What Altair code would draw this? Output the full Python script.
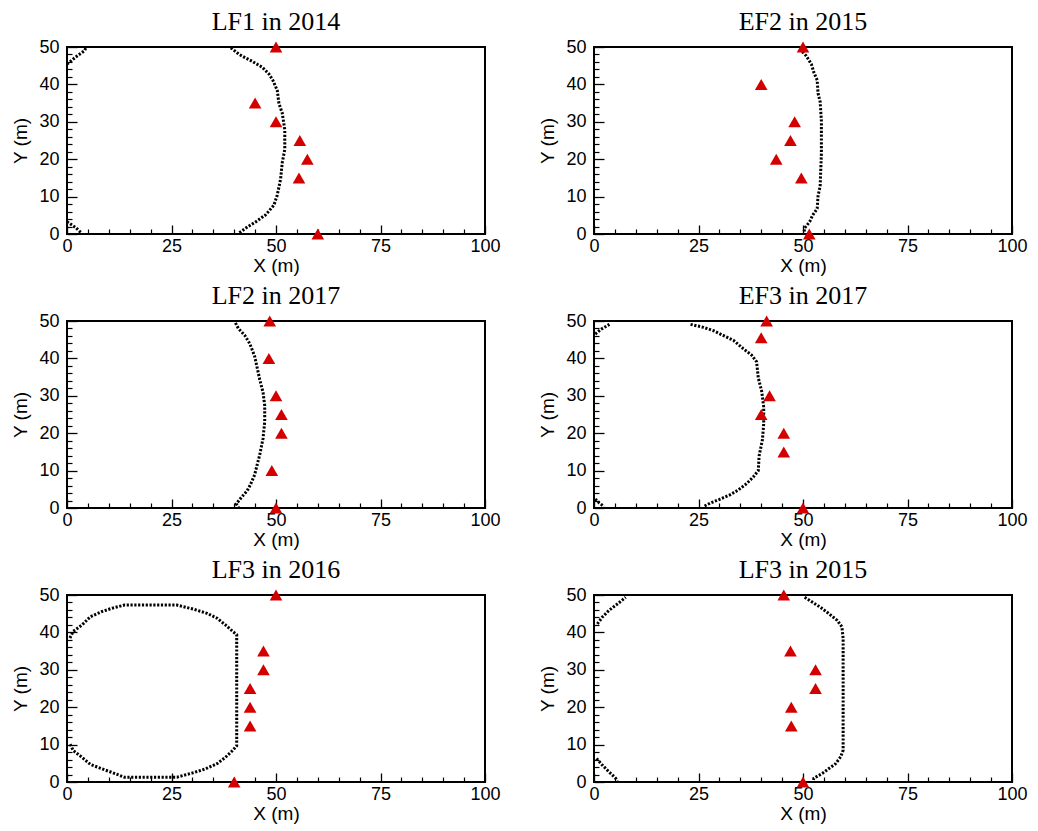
import altair as alt
import pandas as pd

W = 418
H = 187

TITLES = ["LF1 in 2014", "EF2 in 2015", "LF2 in 2017", "EF3 in 2017", "LF3 in 2016", "LF3 in 2015"]

# ---------- receiver triangles (x, y in m) ----------
TRI_X = [
    [50, 45, 50, 55.7, 57.5, 55.5, 60],
    [50, 40, 48, 47, 43.6, 49.6, 51.5],
    [48.5, 48.3, 50, 51.3, 51.3, 49, 50],
    [41.3, 40, 42, 40, 45.4, 45.4, 50],
    [50, 47, 47, 43.8, 43.8, 43.8, 40],
    [45.4, 47, 53, 53, 47.2, 47.2, 50],
]
TRI_Y = [
    [50, 35, 30, 25, 20, 15, 0],
    [50, 40, 30, 25, 20, 15, 0],
    [50, 40, 30, 25, 20, 10, 0],
    [50, 45.5, 30, 25, 20, 15, 0],
    [50, 35, 30, 25, 20, 15, 0],
    [50, 35, 30, 25, 20, 15, 0],
]

# ---------- boundary traces (dotted), several segments per panel ----------
# Panel 1: LF1 in 2014
P1_MAIN_X = [39.2, 41.2, 44.4, 46.7, 48.3, 49.3, 50.3, 50.7, 51.5, 52.1, 52.1, 51.5, 51.1, 50.3, 49.5, 47.5, 45.2, 42.8, 41.2]
P1_MAIN_Y = [49.8, 48.0, 46.1, 44.6, 42.8, 41.0, 38.4, 34.9, 32.3, 27.9, 22.6, 19.1, 14.7, 10.4, 7.7, 5.1, 3.3, 1.6, 0.3]
P1_TL_X = [0.0, 2.4, 4.2, 4.6]
P1_TL_Y = [45.4, 47.6, 49.0, 50.0]
P1_BL_X = [0.0, 2.2, 3.4]
P1_BL_Y = [3.3, 1.6, 0.3]

# Panel 2: EF2 in 2015
P2_MAIN_X = [49.2, 50.8, 52.0, 52.6, 53.4, 53.6, 54.1, 54.4, 54.4, 54.1, 53.6, 53.4, 52.3, 51.6, 50.4, 50.2]
P2_MAIN_Y = [49.5, 47.6, 45.4, 43.2, 41.1, 37.6, 35.4, 30.2, 21.5, 12.8, 10.2, 6.8, 5.0, 3.3, 1.6, 0.0]

# Panel 3: LF2 in 2017
P3_MAIN_X = [40.3, 41.0, 42.5, 43.7, 44.3, 44.9, 45.5, 46.1, 46.9, 47.3, 47.3, 46.9, 46.1, 45.5, 44.9, 43.9, 43.1, 41.7, 40.5, 41.1]
P3_MAIN_Y = [49.5, 48.0, 46.2, 44.0, 42.3, 40.5, 37.5, 34.4, 30.9, 27.4, 23.0, 18.6, 14.2, 11.6, 8.9, 6.3, 4.6, 2.8, 1.1, 0.0]

# Panel 4: EF3 in 2017
P4_MAIN_X = [23.1, 26.2, 28.6, 31.0, 33.4, 35.7, 37.7, 38.9, 39.3, 40.1, 40.6, 40.6, 40.3, 39.5, 39.3, 38.1, 36.5, 34.5, 32.5, 30.2, 27.8, 26.2]
P4_MAIN_Y = [49.1, 48.3, 47.4, 46.1, 44.8, 42.6, 40.9, 39.1, 34.8, 31.3, 27.0, 22.6, 18.3, 13.9, 10.0, 8.3, 6.5, 4.8, 3.5, 2.4, 1.3, 0.4]
P4_TL_X = [0.3, 1.7, 3.7]
P4_TL_Y = [46.5, 47.8, 49.1]
P4_BL_X = [0.3, 1.3, 2.4]
P4_BL_Y = [2.4, 1.3, 0.4]

# Panel 5: LF3 in 2016 (closed contour open to the left edge)
P5_MAIN_X = [0.7, 1.5, 3.6, 5.6, 8.4, 10.9, 13.7, 26.3, 30.3, 33.5, 35.9, 37.9, 39.6, 40.6, 40.6, 39.6, 37.9, 35.9, 33.1, 30.3, 26.3, 13.7, 10.9, 8.4, 5.6, 3.6, 1.5, 0.7]
P5_MAIN_Y = [38.5, 40.3, 42.0, 44.2, 45.6, 46.5, 47.3, 47.3, 46.2, 45.1, 43.8, 42.0, 40.3, 39.4, 9.7, 8.4, 6.6, 4.9, 3.5, 2.5, 1.3, 1.3, 2.5, 3.5, 4.7, 6.6, 8.4, 10.2]

# Panel 6: LF3 in 2015
P6_MAIN_X = [50.4, 52.2, 54.2, 56.2, 58.2, 59.3, 59.6, 59.6, 59.0, 57.8, 56.2, 54.6, 52.6, 52.4]
P6_MAIN_Y = [49.4, 48.1, 46.7, 45.0, 43.2, 41.5, 38.4, 8.5, 6.7, 4.9, 3.6, 2.3, 1.0, 0.0]
P6_TL_X = [0.8, 2.0, 3.6, 5.6, 7.6]
P6_TL_Y = [42.3, 44.1, 45.9, 47.6, 49.4]
P6_BL_X = [0.6, 2.0, 3.6, 5.2, 5.6]
P6_BL_Y = [6.3, 4.5, 2.7, 1.0, 0.0]

SEGMENTS = [
    [(P1_MAIN_X, P1_MAIN_Y), (P1_TL_X, P1_TL_Y), (P1_BL_X, P1_BL_Y)],
    [(P2_MAIN_X, P2_MAIN_Y)],
    [(P3_MAIN_X, P3_MAIN_Y)],
    [(P4_MAIN_X, P4_MAIN_Y), (P4_TL_X, P4_TL_Y), (P4_BL_X, P4_BL_Y)],
    [(P5_MAIN_X, P5_MAIN_Y)],
    [(P6_MAIN_X, P6_MAIN_Y), (P6_TL_X, P6_TL_Y), (P6_BL_X, P6_BL_Y)],
]

X_MAJOR = [0, 25, 50, 75, 100]
X_MINOR = [v for v in range(0, 101, 5) if v % 25 != 0]
Y_MAJOR = [0, 10, 20, 30, 40, 50]
Y_MINOR = [v for v in range(0, 51, 2) if v % 10 != 0]

LABEL_FONT = "Liberation Sans"


def panel(k):
    rows = []
    for si, (xs, ys) in enumerate(SEGMENTS[k]):
        for i, (x, y) in enumerate(zip(xs, ys)):
            rows.append({"x": x, "y": y, "seg": si, "ord": i})
    bdf = pd.DataFrame(rows)
    tdf = pd.DataFrame({"x": TRI_X[k], "y": TRI_Y[k]})

    xs = alt.Scale(domain=[0, 100], nice=False)
    ys = alt.Scale(domain=[0, 50], nice=False)

    line = alt.Chart(bdf).mark_line(
        color="#000000", strokeWidth=3, strokeDash=[2.2, 1.6]
    ).encode(
        x=alt.X("x:Q", scale=xs, axis=alt.Axis(
            orient="bottom", values=X_MAJOR, ticks=False, domain=False, grid=False,
            labelFlush=False, title="X (m)", labelPadding=3, titlePadding=1)),
        y=alt.Y("y:Q", scale=ys, axis=alt.Axis(
            orient="left", values=Y_MAJOR, ticks=False, domain=False, grid=False,
            labelFlush=False, title="Y (m)", labelPadding=8, titlePadding=8)),
        detail="seg:N",
        order="ord:Q",
    )

    tri = alt.Chart(tdf).mark_point(
        shape="triangle-up", filled=True, color="#d40000", size=160, opacity=1
    ).encode(
        x=alt.X("x:Q", scale=xs, axis=alt.Axis(
            orient="top", offset=-H, values=X_MAJOR, labels=False, domain=False,
            grid=False, title=None, tickSize=9, tickWidth=1.3, tickColor="black")),
        y=alt.Y("y:Q", scale=ys, axis=alt.Axis(
            orient="right", offset=-W, values=Y_MAJOR, labels=False, domain=False,
            grid=False, title=None, tickSize=10, tickWidth=1.3, tickColor="black")),
    )

    minor = alt.Chart(tdf).mark_point(opacity=0).encode(
        x=alt.X("x:Q", scale=xs, axis=alt.Axis(
            orient="top", offset=-H, values=X_MINOR, labels=False, domain=False,
            grid=False, title=None, tickSize=5, tickWidth=1.2, tickColor="black")),
        y=alt.Y("y:Q", scale=ys, axis=alt.Axis(
            orient="right", offset=-W, values=Y_MINOR, labels=False, domain=False,
            grid=False, title=None, tickSize=5, tickWidth=1.2, tickColor="black")),
    )

    return alt.layer(line, tri, minor).resolve_axis(
        x="independent", y="independent"
    ).properties(
        width=W, height=H,
        title=alt.TitleParams(TITLES[k], font="Liberation Serif", fontSize=26,
                              fontWeight="normal", color="black", anchor="middle", offset=3),
    )


rows = [alt.hconcat(panel(2 * r), panel(2 * r + 1), spacing=35) for r in range(3)]
chart = alt.vconcat(*rows, spacing=6).properties(
    padding={"left": 2, "top": 0, "right": 0, "bottom": 0}
).configure_view(
    stroke="black", strokeWidth=2
).configure_axis(
    labelFont=LABEL_FONT, labelFontSize=18, labelColor="black",
    titleFont=LABEL_FONT, titleFontSize=19, titleFontWeight="normal", titleColor="black",
)

chart.save("out.html", embed_options={"renderer": "svg", "actions": False})
